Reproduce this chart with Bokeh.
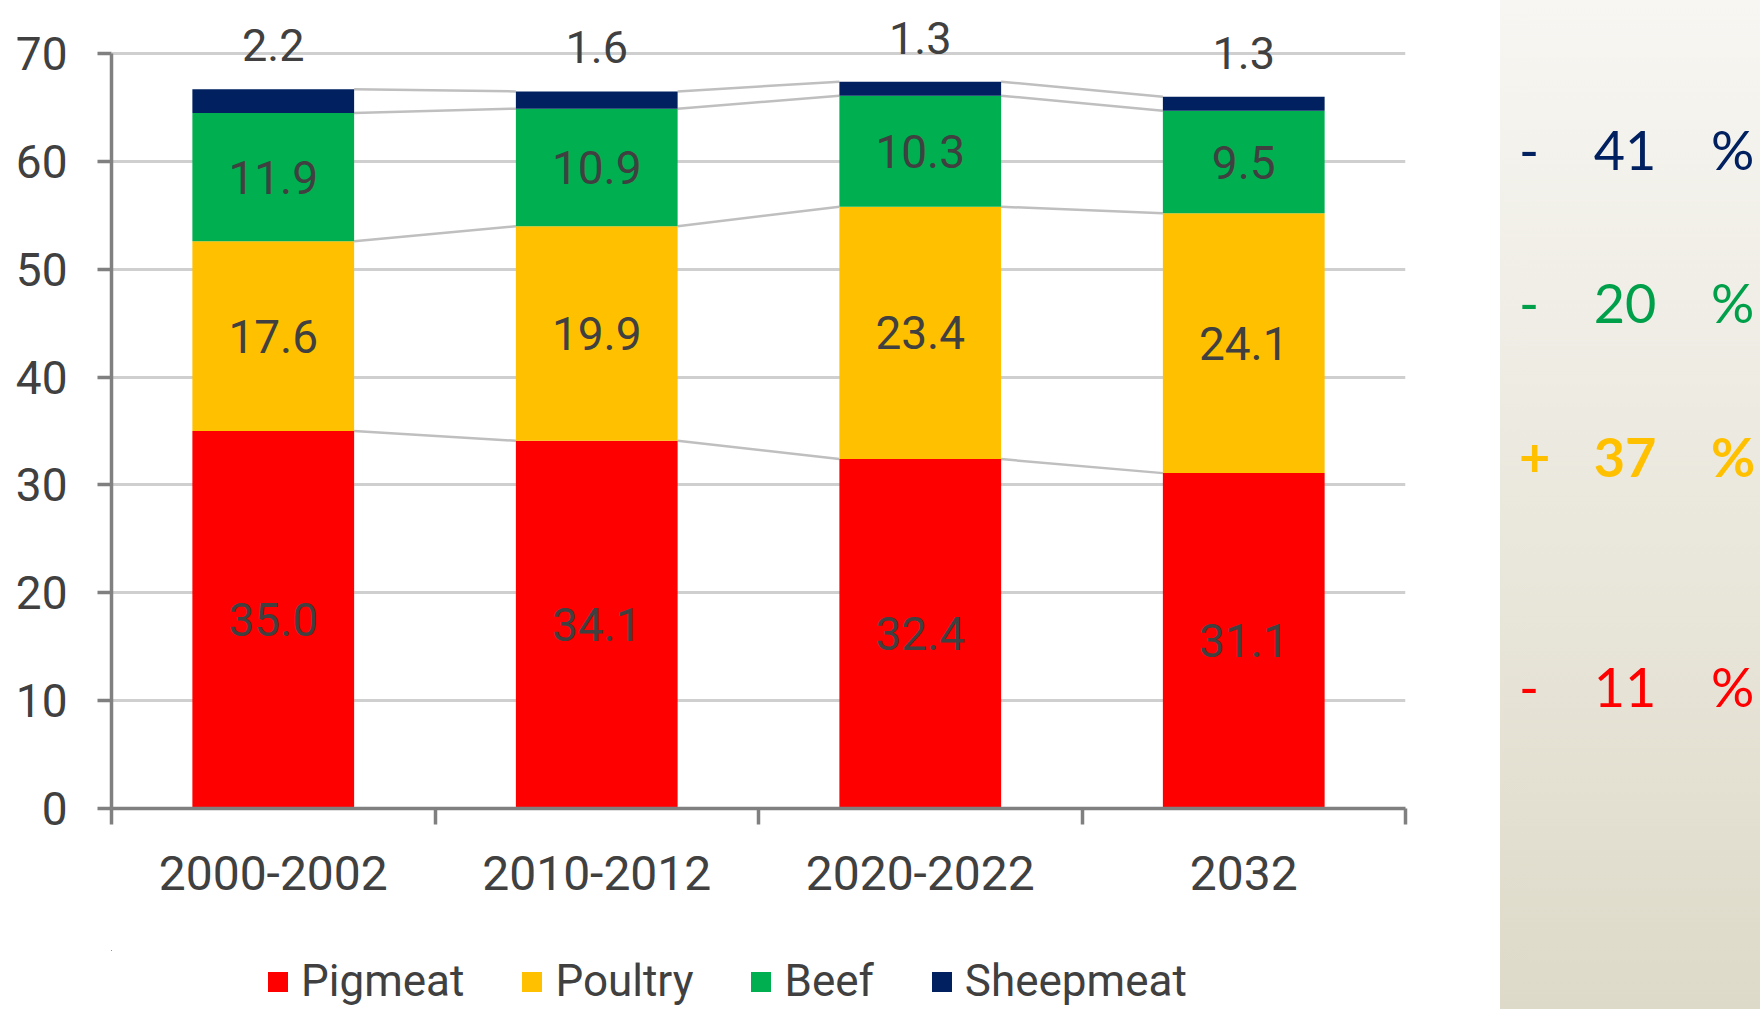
import numpy as np
from bokeh.plotting import figure
from bokeh.models import Range1d, FixedTicker, ColumnDataSource, LabelSet, Legend, LegendItem, Div
from bokeh.layouts import row, column
from bokeh.core.properties import value
from bokeh.embed import file_html
from bokeh.resources import INLINE

# ---------------- data ----------------
periods = ["2000-2002", "2010-2012", "2020-2022", "2032"]
pigmeat = [35.0, 34.1, 32.4, 31.1]
poultry = [17.6, 19.9, 23.4, 24.1]
beef = [11.9, 10.9, 10.3, 9.5]
sheepmeat = [2.2, 1.6, 1.3, 1.3]
series_names = ["Pigmeat", "Poultry", "Beef", "Sheepmeat"]
y_ticks = [0, 10, 20, 30, 40, 50, 60, 70]
# change 2032 vs 2000-2002 (%), top to bottom in the side panel
change_labels = ["Sheepmeat", "Beef", "Poultry", "Pigmeat"]
change_values = [-41, -20, 37, -11]

# ---------------- style ----------------
colors = ["#ff0000", "#ffc000", "#00b050", "#002060"]
FONT = "Roboto"
TXT = "#404040"
AXIS = "#808080"

series = [pigmeat, poultry, beef, sheepmeat]
n = len(periods)
xc = [i + 0.5 for i in range(n)]
bottoms, tops = [], []
cum = np.zeros(n)
for s in series:
    bottoms.append(cum.copy())
    cum = cum + np.array(s)
    tops.append(cum.copy())

p = figure(width=1500, height=950, x_range=Range1d(0, n), y_range=Range1d(0, 74),
           output_backend="svg", toolbar_location=None,
           min_border_left=111, min_border_right=95, min_border_top=10, min_border_bottom=142)
p.outline_line_color = None
p.background_fill_color = "white"
p.border_fill_color = "white"

# grid
p.xgrid.visible = False
p.ygrid.ticker = FixedTicker(ticks=y_ticks)
p.ygrid.grid_line_color = "#cfcfcf"
p.ygrid.grid_line_width = 3

# y axis
p.yaxis.ticker = FixedTicker(ticks=y_ticks)
p.yaxis.bounds = (0, 70)
p.yaxis.axis_line_color = AXIS
p.yaxis.axis_line_width = 3.5
p.yaxis.major_tick_line_color = AXIS
p.yaxis.major_tick_line_width = 3.5
p.yaxis.major_tick_out = 14
p.yaxis.major_tick_in = 0
p.yaxis.minor_tick_line_color = None
p.yaxis.major_label_text_font = FONT
p.yaxis.major_label_text_font_size = "46px"
p.yaxis.major_label_text_color = TXT
p.yaxis.major_label_standoff = 30

# x axis: labels at centers, ticks at category boundaries
p.xaxis.ticker = FixedTicker(ticks=xc, minor_ticks=list(range(n + 1)))
p.xaxis.major_label_overrides = {c: lab for c, lab in zip(xc, periods)}
p.xaxis.axis_line_color = AXIS
p.xaxis.axis_line_width = 3.5
p.xaxis.major_tick_line_color = None
p.xaxis.major_tick_out = 0
p.xaxis.major_tick_in = 0
p.xaxis.minor_tick_line_color = AXIS
p.xaxis.minor_tick_line_width = 3.5
p.xaxis.minor_tick_out = 16
p.xaxis.minor_tick_in = 0
p.xaxis.major_label_text_font = FONT
p.xaxis.major_label_text_font_size = "48px"
p.xaxis.major_label_text_color = TXT
p.xaxis.major_label_standoff = 31

# connector lines between bars
for k in range(len(series)):
    p.segment(x0=[xc[i] + 0.25 for i in range(n - 1)], y0=list(tops[k][:-1]),
              x1=[xc[i + 1] - 0.25 for i in range(n - 1)], y1=list(tops[k][1:]),
              line_color="#bfbfbf", line_width=2.5)

# stacked bars
for k, s in enumerate(series):
    p.vbar(x=xc, bottom=list(bottoms[k]), top=list(tops[k]), width=0.5,
           fill_color=colors[k], line_color=None)

# inside labels (pig, poultry, beef)
for k in range(3):
    p.text(x=xc, y=list((bottoms[k] + tops[k]) / 2), text=[f"{v:.1f}" for v in series[k]],
           text_align="center", text_baseline="middle", text_font=value(FONT),
           text_font_size="46px", text_color=TXT)

# top labels (sheepmeat)
src = ColumnDataSource(dict(x=xc, y=list(tops[3]), t=[f"{v:.1f}" for v in sheepmeat]))
p.add_layout(LabelSet(x="x", y="y", text="t", source=src, y_offset=28,
                      text_align="center", text_baseline="alphabetic",
                      text_font=value(FONT), text_font_size="45px", text_color=TXT))

# ---------------- legend strip under the chart ----------------
# same stacked series, drawn outside this strip's visible ranges, only to feed the legend swatches
lf = figure(width=1500, height=59, x_range=Range1d(100, 104), y_range=Range1d(-200, -199),
            output_backend="svg", toolbar_location=None,
            x_axis_location=None, y_axis_location=None,
            min_border_left=111, min_border_right=95, min_border_top=0, min_border_bottom=0)
lf.grid.visible = False
lf.outline_line_color = None
lf.border_fill_color = "white"
leg_renderers = [lf.vbar(x=xc, bottom=list(bottoms[k]), top=list(tops[k]), width=0.5,
                         fill_color=colors[k], line_color=None) for k in range(len(series))]
legend = Legend(items=[LegendItem(label=nm, renderers=[r]) for nm, r in zip(series_names, leg_renderers)],
                orientation="horizontal", location=(154, 2),
                label_text_font=FONT, label_text_font_size="44px", label_text_color=TXT,
                glyph_width=25, glyph_height=25, label_standoff=11, spacing=55,
                padding=0, margin=0, border_line_color=None, background_fill_alpha=0)
lf.add_layout(legend)

# ---------------- side panel (HTML) ----------------
side_colors = {"Sheepmeat": "#002060", "Beef": "#00a04a", "Poultry": "#ffc000", "Pigmeat": "#ff0000"}
row_y = [150, 303, 457, 687]   # centre of each line, page pixels
rows_html = []
for lab, v, yy in zip(change_labels, change_values, row_y):
    col = side_colors[lab]
    weight = "bold" if v > 0 else "normal"
    top = yy - 30
    rows_html.append(
        f'<div style="position:absolute;left:0;top:{top}px;width:260px;height:60px;line-height:60px;'
        f'color:{col};font-weight:{weight};">'
        f'<span style="position:absolute;left:19px;">{"+" if v > 0 else "-"}</span>'
        f'<span style="position:absolute;left:75px;width:100px;text-align:center;">{abs(v)}</span>'
        f'<span style="position:absolute;left:211px;">%</span></div>'
    )
html = ('<div style="position:relative;width:260px;height:1009px;margin:0;padding:0;'
        'background:linear-gradient(to bottom,#f7f6f2,#dedac9);font-family:Lato;font-size:54px;">'
        + "".join(rows_html) + '</div>')
side = Div(text=html, width=260, height=1009, margin=0)

layout = row(column(p, lf), side)
open("out.html", "w").write(file_html(layout, INLINE))
